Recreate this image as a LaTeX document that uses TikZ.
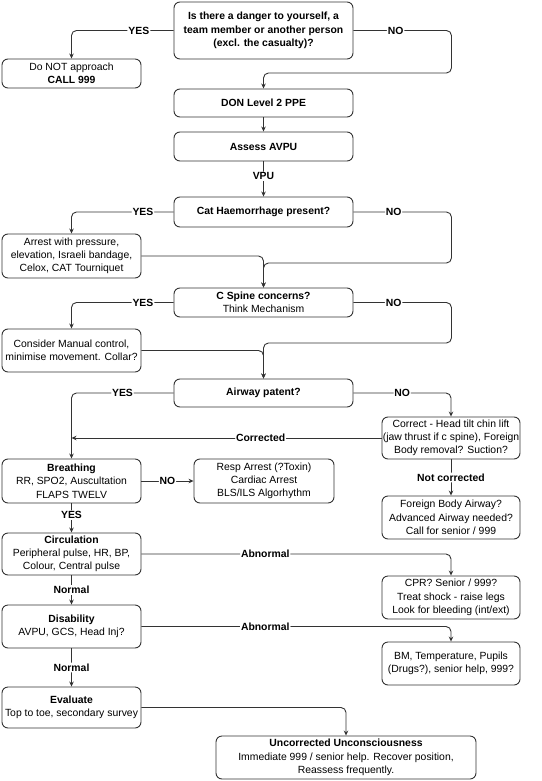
\documentclass[tikz,border=0pt]{standalone}
\usepackage{fontspec}
\setmainfont{Liberation Sans}
\usetikzlibrary{arrows.meta}
\begin{document}
\begin{tikzpicture}
[x=1pt, y=-1pt, line width=0.9pt, >={Stealth[length=5pt,width=4.5pt]},
 box/.style={draw=black!80, rounded corners=6pt, align=center, inner sep=0pt,
   font=\fontsize{10.4}{13.3}\selectfont},
 wide/.style={box, minimum width=179pt},
 side/.style={box, minimum width=139pt},
 lbl/.style={fill=white, inner sep=1pt, font=\fontsize{10.4}{13.3}\selectfont\bfseries},
 link/.style={->, draw=black!80, rounded corners=5pt}]

\useasboundingbox (0,0) rectangle (541,781);

% main column
\node[wide, minimum height=57pt] (danger) at (263.5,30.5)
  {\bfseries Is there a danger to yourself, a\\\bfseries team member or another person\\\bfseries (excl. the casualty)?};
\node[side, minimum height=29pt] (call) at (71.5,73.5) {Do NOT approach\\\bfseries CALL 999};
\node[wide, minimum height=28pt] (ppe) at (263.5,103) {\bfseries DON Level 2 PPE};
\node[wide, minimum height=29pt] (avpu) at (263.5,146.5) {\bfseries Assess AVPU};
\node[wide, minimum height=30pt] (cat) at (263.5,212) {\bfseries Cat Haemorrhage present?};
\node[side, minimum height=44pt] (arrest) at (71.5,256)
  {Arrest with pressure,\\elevation, Israeli bandage,\\Celox, CAT Tourniquet};
\node[wide, minimum height=29pt] (cspine) at (263.5,302.5) {\bfseries C Spine concerns?\\Think Mechanism};
\node[side, minimum height=43pt] (manual) at (71.5,350.5)
  {Consider Manual control,\\minimise movement. Collar?};
\node[wide, minimum height=28pt] (airway) at (263.5,393) {\bfseries Airway patent?};

% airway side
\node[box, minimum width=138pt, minimum height=42pt] (correct) at (451,438)
  {Correct - Head tilt chin lift\\(jaw thrust if c spine), Foreign\\Body removal? Suction?};
\node[box, minimum width=138pt, minimum height=43pt] (foreign) at (451,517.5)
  {Foreign Body Airway?\\Advanced Airway needed?\\Call for senior / 999};

% ABCDE
\node[side, minimum height=44pt] (breath) at (71.5,481)
  {\bfseries Breathing\\RR, SPO2, Auscultation\\FLAPS TWELV};
\node[box, minimum width=140pt, minimum height=44pt] (resp) at (264,481)
  {Resp Arrest (?Toxin)\\Cardiac Arrest\\BLS/ILS Algorhythm};
\node[side, minimum height=42pt] (circ) at (71.5,554)
  {\bfseries Circulation\\Peripheral pulse, HR, BP,\\Colour, Central pulse};
\node[box, minimum width=138pt, minimum height=43pt] (cpr) at (451,597.5)
  {CPR? Senior / 999?\\Treat shock - raise legs\\Look for bleeding (int/ext)};
\node[side, minimum height=43pt] (disab) at (71.5,626.5)
  {\bfseries Disability\\AVPU, GCS, Head Inj?};
\node[box, minimum width=138pt, minimum height=43pt] (bm) at (451,663.5)
  {BM, Temperature, Pupils\\(Drugs?), senior help, 999?};
\node[side, minimum height=41pt] (eval) at (71.5,707.5)
  {\bfseries Evaluate\\Top to toe, secondary survey};
\node[box, minimum width=260pt, minimum height=43pt] (unc) at (346,757.5)
  {\bfseries Uncorrected Unconsciousness\\Immediate 999 / senior help. Recover position,\\Reassess frequently.};

% connectors
\draw[link] (danger.west) -| node[lbl, pos=.17] {YES} (call.north);
\draw[link] (danger.east) -- node[lbl, pos=.43] {NO} ++(98,0) -- ++(0,42.5) -| (ppe.north);
\draw[link] (ppe) -- (avpu);
\draw[link] (avpu) -- node[lbl, pos=.42] {VPU} (cat);

\draw[link] (cat.west) -| node[lbl, pos=.15] {YES} (arrest.north);
\draw[link] (cat.east) -- node[lbl, pos=.41] {NO} ++(98,0) -- ++(0,51) -| (cspine.north);
\draw[link] (arrest.east) -| (cspine.north);

\draw[link] (cspine.west) -| node[lbl, pos=.15] {YES} (manual.north);
\draw[link] (cspine.east) -- node[lbl, pos=.41] {NO} ++(98,0) -- ++(0,40.5) -| (airway.north);
\draw[link] (manual.east) -| (airway.north);

\draw[link] (airway.west) -| node[lbl, pos=.25] {YES} (breath.north);
\draw[link] (airway.east) -| node[lbl, pos=.25] {NO} (correct.north);
\draw[link] (correct.west) -- node[lbl, pos=.39] {Corrected} (breath.north |- correct.west);
\draw[link] (correct) -- node[lbl] {Not corrected} (foreign);

\draw[link] (breath) -- node[lbl] {NO} (resp);
\draw[link] (breath) -- node[lbl, pos=.4] {YES} (circ);
\draw[link] (circ.east) -| node[lbl, pos=.2] {Abnormal} (cpr.north);
\draw[link] (circ) -- node[lbl] {Normal} (disab);
\draw[link] (disab.east) -| node[lbl, pos=.2] {Abnormal} (bm.north);
\draw[link] (disab) -- node[lbl] {Normal} (eval);
\draw[link] (eval.east) -| (unc.north);

\end{tikzpicture}
\end{document}
